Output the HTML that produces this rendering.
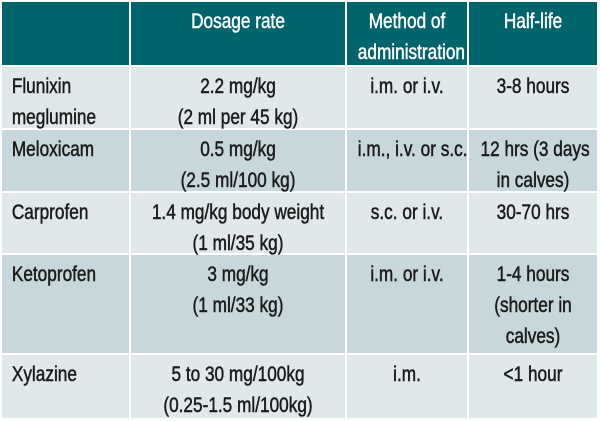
<!DOCTYPE html>
<html><head><meta charset="utf-8"><style>
html,body{margin:0;padding:0;background:#fff;width:600px;height:421px;overflow:hidden;position:relative}
.c{position:absolute;box-sizing:border-box;padding-top:4px;font-family:"Liberation Sans",sans-serif;font-size:21px;line-height:31px;color:#1b1b1b;-webkit-text-stroke:0.5px #1b1b1b}
.c div{white-space:nowrap;text-align:center;transform:scaleX(0.82);transform-origin:center}
.c.n div{text-align:left;transform-origin:left;padding-left:12px}
.h{background:#00646c;color:#fff;-webkit-text-stroke:0.5px #fff}
.a{background:#e1e8ea}
.b{background:#c7d7dc}
</style></head><body>
<div class="c h" style="left:2px;top:2px;width:127px;height:63px"></div>
<div class="c h" style="left:131px;top:2px;width:214px;height:63px"><div>Dosage rate</div></div>
<div class="c h" style="left:347px;top:2px;width:120px;height:63px"><div>Method of</div><div>administration</div></div>
<div class="c h" style="left:469px;top:2px;width:128px;height:63px"><div>Half-life</div></div>

<div class="c a n" style="left:2px;top:67px;width:127px;height:61px"><div>Flunixin</div><div>meglumine</div></div>
<div class="c a" style="left:131px;top:67px;width:214px;height:61px"><div>2.2 mg/kg</div><div>(2 ml per 45 kg)</div></div>
<div class="c a" style="left:347px;top:67px;width:120px;height:61px"><div>i.m. or i.v.</div></div>
<div class="c a" style="left:469px;top:67px;width:128px;height:61px"><div>3-8 hours</div></div>

<div class="c b n" style="left:2px;top:130px;width:127px;height:61px"><div>Meloxicam</div></div>
<div class="c b" style="left:131px;top:130px;width:214px;height:61px"><div>0.5 mg/kg</div><div>(2.5 ml/100 kg)</div></div>
<div class="c b" style="left:347px;top:130px;width:120px;height:61px"><div>i.m., i.v. or s.c.</div></div>
<div class="c b" style="left:469px;top:130px;width:128px;height:61px"><div>12 hrs (3 days</div><div>in calves)</div></div>

<div class="c a n" style="left:2px;top:193px;width:127px;height:60px"><div>Carprofen</div></div>
<div class="c a" style="left:131px;top:193px;width:214px;height:60px"><div>1.4 mg/kg body weight</div><div>(1 ml/35 kg)</div></div>
<div class="c a" style="left:347px;top:193px;width:120px;height:60px"><div>s.c. or i.v.</div></div>
<div class="c a" style="left:469px;top:193px;width:128px;height:60px"><div>30-70 hrs</div></div>

<div class="c b n" style="left:2px;top:255px;width:127px;height:98px"><div>Ketoprofen</div></div>
<div class="c b" style="left:131px;top:255px;width:214px;height:98px"><div>3 mg/kg</div><div>(1 ml/33 kg)</div></div>
<div class="c b" style="left:347px;top:255px;width:120px;height:98px"><div>i.m. or i.v.</div></div>
<div class="c b" style="left:469px;top:255px;width:128px;height:98px"><div>1-4 hours</div><div>(shorter in</div><div>calves)</div></div>

<div class="c a n" style="left:2px;top:355px;width:127px;height:63px"><div>Xylazine</div></div>
<div class="c a" style="left:131px;top:355px;width:214px;height:63px"><div>5 to 30 mg/100kg</div><div>(0.25-1.5 ml/100kg)</div></div>
<div class="c a" style="left:347px;top:355px;width:120px;height:63px"><div>i.m.</div></div>
<div class="c a" style="left:469px;top:355px;width:128px;height:63px"><div>&lt;1 hour</div></div>
</body></html>
